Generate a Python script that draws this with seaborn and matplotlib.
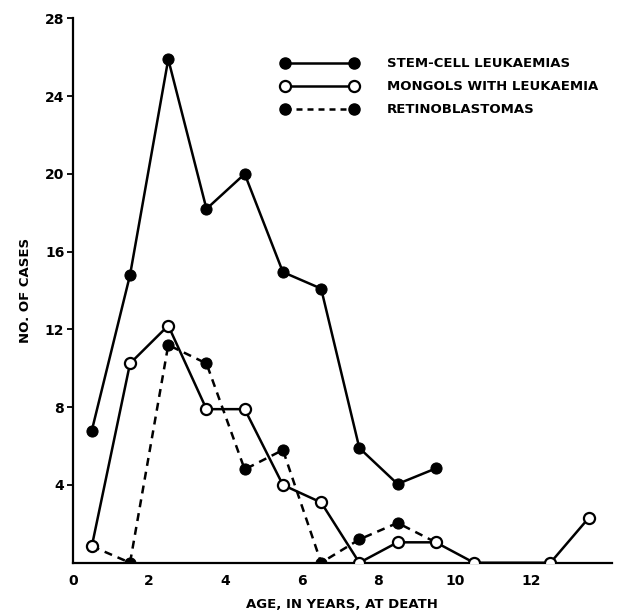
import matplotlib
matplotlib.use("Agg")
import matplotlib.pyplot as plt
import seaborn as sns
import pandas as pd
from matplotlib.lines import Line2D

# Data
stem_age = [0.5, 1.5, 2.5, 3.5, 4.5, 5.5, 6.5, 7.5, 8.5, 9.5]
stem_cases = [6.8, 14.8, 25.9, 18.2, 20.0, 14.95, 14.1, 5.9, 4.05, 4.85]

mongol_age = [0.5, 1.5, 2.5, 3.5, 4.5, 5.5, 6.5, 7.5, 8.5, 9.5, 10.5, 12.5, 13.5]
mongol_cases = [0.85, 10.25, 12.2, 7.9, 7.9, 4.0, 3.1, 0.0, 1.05, 1.05, 0.0, 0.0, 2.3]

retino_age = [0.5, 1.5, 2.5, 3.5, 4.5, 5.5, 6.5, 7.5, 8.5, 9.5]
retino_cases = [0.85, 0.0, 11.2, 10.25, 4.8, 5.8, 0.0, 1.2, 2.05, 1.05]

x_ticks = [0, 2, 4, 6, 8, 10, 12]
y_ticks = [4, 8, 12, 16, 20, 24, 28]

labels = ["STEM-CELL LEUKAEMIAS", "MONGOLS WITH LEUKAEMIA", "RETINOBLASTOMAS"]

sns.set_style("ticks")
plt.rcParams['font.family'] = ['DejaVu Sans']
plt.rcParams['font.weight'] = 'bold'
plt.rcParams['text.color'] = 'black'
plt.rcParams['axes.labelcolor'] = 'black'
plt.rcParams['xtick.color'] = 'black'
plt.rcParams['ytick.color'] = 'black'

fig = plt.figure(figsize=(6.23, 6.13), dpi=100)
ax = fig.add_axes([0.1167, 0.082, 0.865, 0.888])

lw = 1.8
ms = 8.0

df_s = pd.DataFrame({"age": stem_age, "cases": stem_cases})
df_m = pd.DataFrame({"age": mongol_age, "cases": mongol_cases})
df_r = pd.DataFrame({"age": retino_age, "cases": retino_cases})

sns.lineplot(data=df_s, x="age", y="cases", ax=ax, color="black", linewidth=lw,
             marker="o", markersize=ms, markerfacecolor="black", markeredgecolor="black",
             zorder=3)
sns.lineplot(data=df_r, x="age", y="cases", ax=ax, color="black", linewidth=lw,
             linestyle=(0, (3.2, 2.4)), marker="o", markersize=ms,
             markerfacecolor="black", markeredgecolor="black", zorder=3)
sns.lineplot(data=df_m, x="age", y="cases", ax=ax, color="black", linewidth=lw,
             marker="o", markersize=ms, markerfacecolor="white", markeredgecolor="black",
             markeredgewidth=1.6, zorder=4)

ax.set_xlim(0, 14.1)
ax.set_ylim(0, 28)
ax.set_xticks(x_ticks)
ax.set_xticklabels([str(t) for t in x_ticks], fontsize=10, fontweight="bold")
ax.set_yticks(y_ticks)
ax.set_yticklabels([str(t) for t in y_ticks], fontsize=10, fontweight="bold")
ax.tick_params(axis="x", length=0, pad=8)
ax.tick_params(axis="y", length=4, width=1.3, pad=2)

for side in ["top", "right"]:
    ax.spines[side].set_visible(False)
for side in ["left", "bottom"]:
    ax.spines[side].set_linewidth(1.6)
    ax.spines[side].set_color("black")

ax.set_xlabel("AGE, IN YEARS, AT DEATH", fontsize=9.5, fontweight="bold", labelpad=7)
ax.set_ylabel("NO. OF CASES", fontsize=9.5, fontweight="bold", labelpad=9)

handles = [
    Line2D([0], [0], color="black", lw=lw, marker="o", markersize=ms,
           markerfacecolor="black", markeredgecolor="black"),
    Line2D([0], [0], color="black", lw=lw, marker="o", markersize=ms,
           markerfacecolor="white", markeredgecolor="black", markeredgewidth=1.6),
    Line2D([0], [0], color="black", lw=lw, linestyle=(0, (2.4, 2.0)), marker="o",
           markersize=ms, markerfacecolor="black", markeredgecolor="black"),
]
leg = ax.legend(handles, labels, loc="upper left", bbox_to_anchor=(0.365, 0.95),
                frameon=False, handlelength=5.8, handletextpad=2.2,
                labelspacing=0.75, numpoints=2,
                prop={"size": 9.5, "weight": "bold"})

fig.savefig("out.png", dpi=100)
